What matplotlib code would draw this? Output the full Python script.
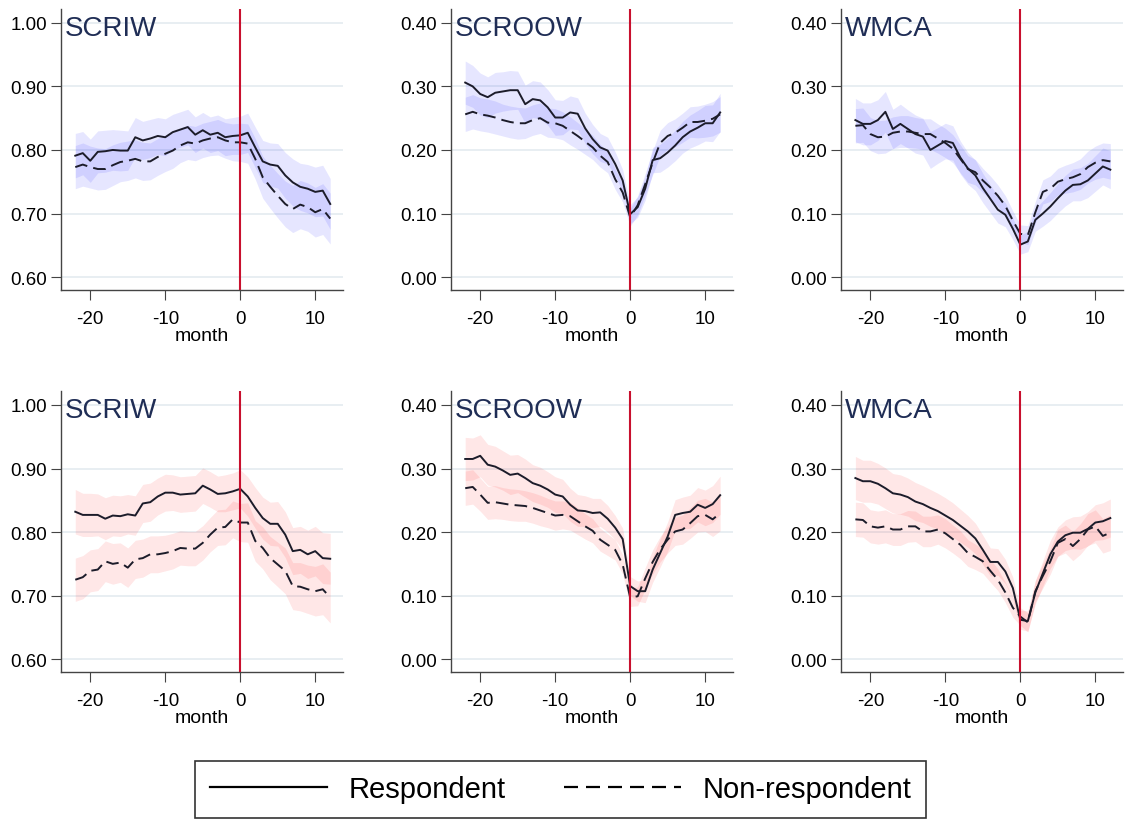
import numpy as np
import matplotlib
matplotlib.use("Agg")
import matplotlib.pyplot as plt
from matplotlib.lines import Line2D

plt.rcParams["font.family"] = ["Liberation Sans", "DejaVu Sans"]
plt.rcParams["axes.unicode_minus"] = False

months = list(range(-22, 13))
panel_names = ["SCRIW", "SCROOW", "WMCA"]

# top row (blue bands)
top_scriw_resp = [0.791, 0.795, 0.783, 0.797, 0.798, 0.800, 0.799, 0.799, 0.820, 0.815,
                  0.818, 0.822, 0.820, 0.828, 0.832, 0.836, 0.824, 0.831, 0.824, 0.827,
                  0.820, 0.822, 0.823, 0.827, 0.804, 0.782, 0.777, 0.775, 0.760, 0.749,
                  0.742, 0.739, 0.734, 0.736, 0.715]
top_scriw_non = [0.773, 0.777, 0.773, 0.770, 0.770, 0.776, 0.781, 0.783, 0.786, 0.782,
                 0.782, 0.789, 0.794, 0.799, 0.807, 0.812, 0.810, 0.815, 0.818, 0.820,
                 0.815, 0.812, 0.812, 0.810, 0.786, 0.757, 0.742, 0.728, 0.715, 0.707,
                 0.714, 0.710, 0.702, 0.707, 0.692]
top_scroow_resp = [0.306, 0.300, 0.288, 0.283, 0.290, 0.292, 0.294, 0.294, 0.272, 0.280,
                   0.278, 0.267, 0.251, 0.251, 0.259, 0.257, 0.234, 0.217, 0.204, 0.199,
                   0.178, 0.152, 0.099, 0.110, 0.139, 0.184, 0.187, 0.196, 0.207, 0.220,
                   0.229, 0.235, 0.242, 0.242, 0.259]
top_scroow_non = [0.256, 0.260, 0.256, 0.254, 0.251, 0.247, 0.244, 0.242, 0.242, 0.247,
                  0.250, 0.243, 0.242, 0.238, 0.230, 0.222, 0.213, 0.204, 0.191, 0.181,
                  0.154, 0.133, 0.094, 0.113, 0.146, 0.180, 0.211, 0.222, 0.227, 0.235,
                  0.244, 0.244, 0.246, 0.249, 0.256]
top_wmca_resp = [0.247, 0.241, 0.241, 0.247, 0.260, 0.233, 0.241, 0.233, 0.225, 0.221,
                 0.200, 0.207, 0.214, 0.211, 0.188, 0.171, 0.160, 0.140, 0.123, 0.106,
                 0.098, 0.076, 0.051, 0.056, 0.090, 0.100, 0.111, 0.124, 0.136, 0.145,
                 0.146, 0.152, 0.163, 0.174, 0.169]
top_wmca_non = [0.238, 0.239, 0.225, 0.220, 0.221, 0.227, 0.229, 0.229, 0.227, 0.225,
                0.225, 0.218, 0.211, 0.202, 0.186, 0.170, 0.165, 0.152, 0.141, 0.128,
                0.112, 0.089, 0.068, 0.066, 0.102, 0.134, 0.139, 0.150, 0.154, 0.157,
                0.162, 0.173, 0.180, 0.184, 0.182]

# bottom row (red bands)
bot_scriw_resp = [0.832, 0.827, 0.827, 0.827, 0.821, 0.826, 0.825, 0.828, 0.826, 0.845,
                  0.847, 0.856, 0.862, 0.862, 0.859, 0.860, 0.861, 0.873, 0.867, 0.860,
                  0.861, 0.864, 0.868, 0.856, 0.838, 0.822, 0.813, 0.813, 0.796, 0.770,
                  0.772, 0.765, 0.770, 0.759, 0.758]
bot_scriw_non = [0.725, 0.729, 0.739, 0.741, 0.754, 0.750, 0.752, 0.744, 0.757, 0.759,
                 0.765, 0.765, 0.767, 0.770, 0.775, 0.774, 0.774, 0.783, 0.796, 0.807,
                 0.808, 0.820, 0.815, 0.815, 0.786, 0.775, 0.759, 0.749, 0.739, 0.715,
                 0.714, 0.710, 0.707, 0.710, 0.697]
bot_scroow_resp = [0.315, 0.315, 0.320, 0.306, 0.303, 0.297, 0.290, 0.292, 0.285, 0.277,
                   0.273, 0.267, 0.259, 0.256, 0.243, 0.234, 0.233, 0.230, 0.231, 0.221,
                   0.207, 0.189, 0.115, 0.107, 0.107, 0.141, 0.167, 0.193, 0.227, 0.230,
                   0.232, 0.243, 0.238, 0.244, 0.258]
bot_scroow_non = [0.269, 0.271, 0.259, 0.246, 0.247, 0.245, 0.243, 0.242, 0.241, 0.238,
                  0.234, 0.230, 0.226, 0.227, 0.225, 0.217, 0.209, 0.202, 0.188, 0.180,
                  0.172, 0.149, 0.097, 0.099, 0.127, 0.153, 0.173, 0.188, 0.201, 0.204,
                  0.214, 0.225, 0.227, 0.220, 0.230]
bot_wmca_resp = [0.285, 0.280, 0.280, 0.276, 0.269, 0.261, 0.259, 0.255, 0.248, 0.244,
                 0.238, 0.233, 0.226, 0.219, 0.210, 0.201, 0.190, 0.172, 0.153, 0.153,
                 0.138, 0.112, 0.062, 0.060, 0.105, 0.135, 0.165, 0.185, 0.195, 0.199,
                 0.199, 0.205, 0.215, 0.217, 0.222]
bot_wmca_non = [0.220, 0.219, 0.209, 0.207, 0.209, 0.204, 0.204, 0.209, 0.209, 0.201,
                0.201, 0.204, 0.198, 0.189, 0.180, 0.167, 0.161, 0.154, 0.139, 0.125,
                0.105, 0.081, 0.067, 0.058, 0.107, 0.131, 0.154, 0.183, 0.189, 0.178,
                0.189, 0.204, 0.209, 0.194, 0.199]

# confidence interval half-widths
ci_scriw_resp = [0.035, 0.034, 0.034, 0.033, 0.033, 0.032, 0.032, 0.031, 0.031, 0.030,
                 0.030, 0.029, 0.029, 0.028, 0.028, 0.028, 0.028, 0.028, 0.028, 0.028,
                 0.029, 0.029, 0.030, 0.031, 0.032, 0.033, 0.034, 0.035, 0.036, 0.037,
                 0.037, 0.038, 0.039, 0.040, 0.040]
ci_scriw_non = [0.034, 0.034, 0.033, 0.033, 0.032, 0.032, 0.031, 0.031, 0.030, 0.030,
                0.029, 0.029, 0.028, 0.028, 0.027, 0.027, 0.027, 0.027, 0.027, 0.028,
                0.028, 0.029, 0.030, 0.031, 0.032, 0.033, 0.034, 0.035, 0.036, 0.037,
                0.038, 0.038, 0.039, 0.040, 0.040]
ci_rate_resp = [0.034, 0.033, 0.033, 0.032, 0.032, 0.031, 0.031, 0.030, 0.030, 0.029,
                0.029, 0.028, 0.028, 0.027, 0.026, 0.025, 0.024, 0.023, 0.022, 0.021,
                0.019, 0.017, 0.015, 0.016, 0.018, 0.020, 0.022, 0.023, 0.024, 0.025,
                0.026, 0.027, 0.028, 0.029, 0.030]
ci_rate_non = [0.027, 0.027, 0.026, 0.026, 0.026, 0.025, 0.025, 0.025, 0.024, 0.024,
               0.024, 0.023, 0.023, 0.022, 0.022, 0.021, 0.020, 0.019, 0.018, 0.017,
               0.016, 0.015, 0.014, 0.015, 0.017, 0.019, 0.020, 0.021, 0.022, 0.023,
               0.024, 0.025, 0.026, 0.027, 0.028]

rows = [
    [(top_scriw_resp, top_scriw_non), (top_scroow_resp, top_scroow_non), (top_wmca_resp, top_wmca_non)],
    [(bot_scriw_resp, bot_scriw_non), (bot_scroow_resp, bot_scroow_non), (bot_wmca_resp, bot_wmca_non)],
]
band_colors = ["#1010ff", "#ff1515"]

fig = plt.figure(figsize=(11.26, 8.2), dpi=100)
lefts = [0.0542, 0.4005, 0.747]
bottoms = [0.645, 0.179]
w, h = 0.2504, 0.343

x = np.array(months)
for r, row in enumerate(rows):
    for c, (resp, non) in enumerate(row):
        ax = fig.add_axes([lefts[c], bottoms[r], w, h])
        resp = np.array(resp)
        non = np.array(non)
        if c == 0:
            ci_r, ci_n = np.array(ci_scriw_resp), np.array(ci_scriw_non)
            ax.set_ylim(0.5795, 1.022)
            ax.set_yticks([0.6, 0.7, 0.8, 0.9, 1.0])
        else:
            ci_r, ci_n = np.array(ci_rate_resp), np.array(ci_rate_non)
            ax.set_ylim(-0.0205, 0.422)
            ax.set_yticks([0.0, 0.1, 0.2, 0.3, 0.4])
        ax.set_yticklabels(["%.2f" % t for t in ax.get_yticks()])
        ax.fill_between(x, resp - ci_r, resp + ci_r, color=band_colors[r], alpha=0.10, lw=0)
        ax.fill_between(x, non - ci_n, non + ci_n, color=band_colors[r], alpha=0.10, lw=0)
        ax.plot(x, resp, color="#1c1c2a", lw=1.4)
        ax.plot(x, non, color="#1c1c2a", lw=1.4, dashes=(6.5, 3.2))
        ax.axvline(0, color="#c8102e", lw=1.5, zorder=5)
        ax.set_xlim(-23.9, 13.7)
        ax.set_xticks([-20, -10, 0, 10])
        ax.grid(axis="y", color="#e6edf1", lw=1.3)
        ax.set_axisbelow(True)
        for s in ["top", "right"]:
            ax.spines[s].set_visible(False)
        for s in ["left", "bottom"]:
            ax.spines[s].set_color("#444444")
            ax.spines[s].set_linewidth(1.0)
        ax.tick_params(axis="both", labelsize=13.5, length=7, color="#444444")
        ax.tick_params(axis="x", pad=7)
        ax.tick_params(axis="y", pad=3)
        ax.set_xlabel("month", fontsize=14, labelpad=0)
        ax.text(0.015, 0.978, panel_names[c], transform=ax.transAxes, fontsize=20,
                color="#1f2d55", ha="left", va="top")

handles = [Line2D([], [], color="black", lw=1.6),
           Line2D([], [], color="black", lw=1.6, dashes=(6.3, 3.6))]
leg = fig.legend(handles, ["Respondent", "Non-respondent"], loc="center",
                 bbox_to_anchor=(0.498, 0.036), ncol=2, fontsize=21, frameon=True,
                 fancybox=False, edgecolor="black", handlelength=4.0, columnspacing=2.0,
                 borderpad=0.5, handletextpad=0.75, borderaxespad=0)
leg.get_frame().set_linewidth(1.2)

fig.savefig("out.png", dpi=100)
